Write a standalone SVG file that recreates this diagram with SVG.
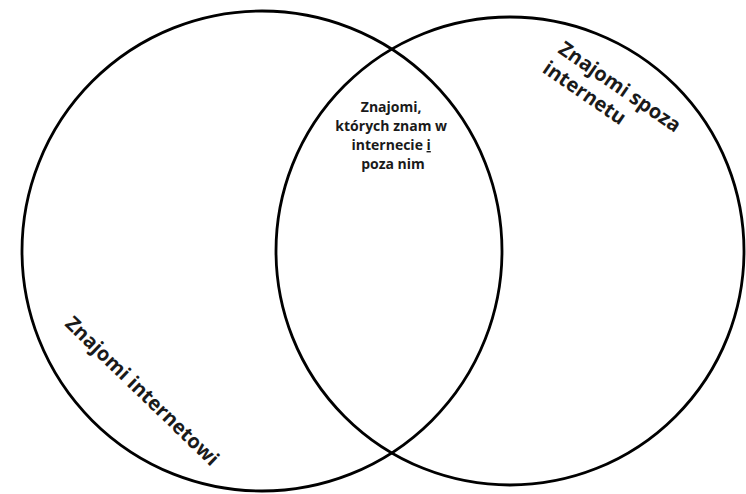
<svg xmlns="http://www.w3.org/2000/svg" width="746" height="494" viewBox="0 0 746 494">
<style>
.c{fill:none;stroke:#000;stroke-width:2.8}
.t{font-family:"Open Sans","Liberation Sans",sans-serif;font-weight:bold;fill:#1a1a1a}
</style>
<rect width="746" height="494" fill="#fff"/>
<g id="left-set"><circle class="c" cx="262" cy="251" r="240"/></g>
<g id="right-set"><circle class="c" cx="510" cy="251" r="234"/></g>
<g id="label-center">
<text class="t" font-size="14" text-anchor="middle">
<tspan x="393" y="112">Znajomi,</tspan>
<tspan x="393" y="131">których znam w</tspan>
<tspan x="393" y="150">internecie <tspan text-decoration="underline">i</tspan></tspan>
<tspan x="393" y="169">poza nim</tspan>
</text>
</g>
<g id="label-right">
<text class="t" font-size="20" transform="translate(557,52) rotate(34.5)">
<tspan x="0" y="0">Znajomi spoza</tspan>
<tspan x="-2" y="25">internetu</tspan>
</text>
</g>
<g id="label-left">
<text class="t" font-size="20" transform="translate(64,325) rotate(44)">Znajomi internetowi</text>
</g>
<g id="connectors"></g>
</svg>
